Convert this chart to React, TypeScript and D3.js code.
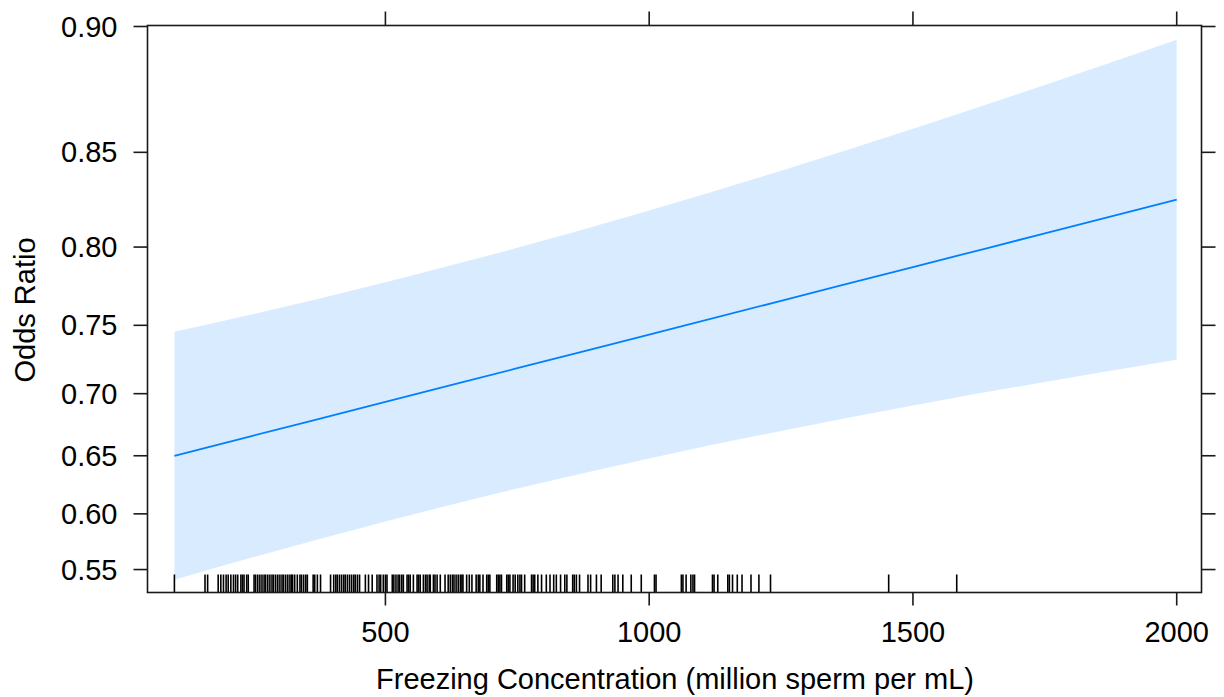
import React from 'react';
import * as d3 from 'd3';

// effect of freezing concentration
const concentration = [100, 250, 500, 750, 1000, 1250, 1500, 1750, 2000];
const fitOR = [0.65, 0.6667, 0.6936, 0.7193, 0.7436, 0.7665, 0.788, 0.8079, 0.8264];
const lowerOR = [0.5407, 0.5613, 0.5932, 0.6221, 0.6477, 0.6705, 0.6908, 0.709, 0.7255];
const upperOR = [0.7455, 0.7577, 0.7785, 0.7996, 0.8206, 0.8412, 0.8607, 0.8789, 0.8955];

const yTicks = [0.55, 0.6, 0.65, 0.7, 0.75, 0.8, 0.85, 0.9];
const xTicks = [500, 1000, 1500, 2000];

// rug of observed concentrations
const rug = [
  100, 158, 163, 183, 188, 193, 198, 202, 207, 212, 216, 220, 226, 229, 232, 237, 240,
  251, 254, 258, 262, 266, 270, 273, 277, 281, 285, 288, 292, 296, 300, 304, 307, 311, 315,
  319, 322, 324, 328, 333, 338, 341, 345, 349, 352, 363, 366, 371, 377, 396,
  402, 406, 409, 413, 417, 421, 424, 428, 432, 436, 440, 443, 447, 451, 462, 468, 475,
  484, 488, 491, 496, 500, 503, 513, 516, 520, 524, 527, 531, 534, 541, 544, 547, 553,
  560, 563, 566, 572, 576, 579, 583, 585, 591, 594, 598, 604, 613,
  619, 623, 627, 630, 634, 638, 642, 645, 647, 654, 659, 664, 672, 676, 679, 685,
  692, 695, 698, 711, 714, 717, 720, 730, 733, 736, 742, 746, 751, 755, 758, 764,
  777, 780, 783, 789, 796, 805, 812, 819, 824, 832, 840, 844, 855, 858, 862, 868,
  884, 889, 900, 909, 931, 935, 941, 950, 966, 985, 1010, 1013, 1061, 1064, 1070,
  1079, 1083, 1086, 1120, 1123, 1130, 1149, 1152, 1158, 1167, 1176, 1193, 1208, 1230,
  1454, 1583,
];

const logit = (p: number) => Math.log(p / (1 - p));

const W = 1224;
const H = 697;
const left = 147.5;
const right = 1201.5;
const top = 25.5;
const bottom = 592.5;

const x = d3.scaleLinear().domain([49, 2047]).range([left, right]);
const yL = d3.scaleLinear().domain([0.1163, 2.2009]).range([bottom, top]);
const y = (p: number) => yL(logit(p));

const font = '"Liberation Sans", Arial, sans-serif';
const ink = '#1a1a1a';
const fs = 29;

export default function App() {
  const rows = concentration.map((c, i) => ({ c, fit: fitOR[i], lo: lowerOR[i], hi: upperOR[i] }));

  const band = d3
    .area<typeof rows[0]>()
    .x(d => x(d.c))
    .y0(d => y(d.lo))
    .y1(d => y(d.hi))
    .curve(d3.curveMonotoneX)(rows);

  const line = d3
    .line<typeof rows[0]>()
    .x(d => x(d.c))
    .y(d => y(d.fit))
    .curve(d3.curveMonotoneX)(rows);

  return (
    <svg width={W} height={H} style={{ position: 'absolute', left: 0, top: 0 }}>
      <rect width={W} height={H} fill="#fff" />
      <path d={band || ''} fill="#0080ff" fillOpacity={0.15} />
      <path d={line || ''} fill="none" stroke="#0080ff" strokeWidth={1.8} />

      {rug.map((v, i) => (
        <line key={i} x1={x(v)} x2={x(v)} y1={574.5} y2={bottom} stroke="#000" strokeWidth={1.6} />
      ))}

      <rect x={left} y={top} width={right - left} height={bottom - top} fill="none" stroke={ink} strokeWidth={1.6} />

      {yTicks.map(t => (
        <g key={t}>
          <line x1={left - 14} x2={left} y1={y(t)} y2={y(t)} stroke={ink} strokeWidth={1.6} />
          <line x1={right} x2={right + 14} y1={y(t)} y2={y(t)} stroke={ink} strokeWidth={1.6} />
          <text
            x={left - 30}
            y={y(t)}
            dy="0.35em"
            textAnchor="end"
            fontFamily={font}
            fontSize={fs}
            fill="#000"
          >
            {t.toFixed(2)}
          </text>
        </g>
      ))}

      {xTicks.map(t => (
        <g key={t}>
          <line x1={x(t)} x2={x(t)} y1={bottom} y2={bottom + 13} stroke={ink} strokeWidth={1.6} />
          <line x1={x(t)} x2={x(t)} y1={top - 14} y2={top} stroke={ink} strokeWidth={1.6} />
          <text x={x(t)} y={642} textAnchor="middle" fontFamily={font} fontSize={fs} fill="#000">
            {t}
          </text>
        </g>
      ))}

      <text x={675} y={689} textAnchor="middle" fontFamily={font} fontSize={fs} fill="#000">
        Freezing Concentration (million sperm per mL)
      </text>
      <text
        transform={`translate(35, 310) rotate(-90)`}
        textAnchor="middle"
        fontFamily={font}
        fontSize={fs}
        fill="#000"
      >
        Odds Ratio
      </text>
    </svg>
  );
}
